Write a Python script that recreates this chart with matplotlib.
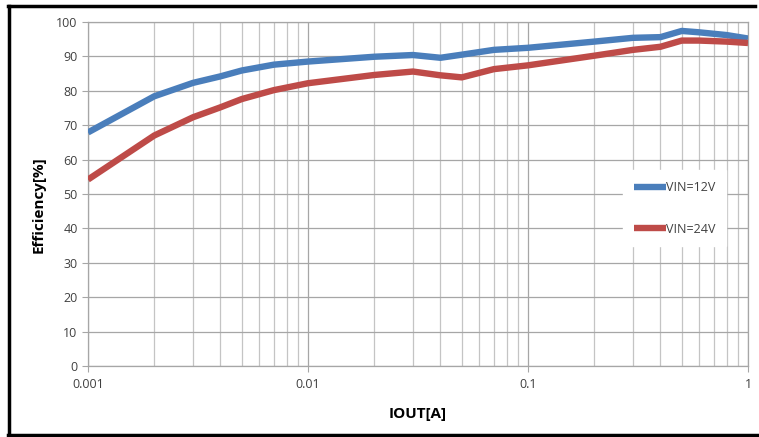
import matplotlib
matplotlib.use("Agg")
import matplotlib.pyplot as plt
from matplotlib.lines import Line2D
from matplotlib.ticker import FixedLocator, NullFormatter

plt.rcParams['font.family'] = ['Open Sans', 'DejaVu Sans']

# output current [A]
iout = [0.001, 0.002, 0.003, 0.004, 0.005, 0.007, 0.01, 0.02, 0.03, 0.04,
        0.05, 0.07, 0.1, 0.2, 0.3, 0.4, 0.5, 0.6, 0.8, 1.0]
# efficiency [%]
eff_12v = [67.9, 78.4, 82.3, 84.2, 85.9, 87.6, 88.5, 89.9, 90.4, 89.6,
           90.5, 91.9, 92.5, 94.3, 95.4, 95.6, 97.4, 97.0, 96.2, 95.2]
eff_24v = [54.2, 67.0, 72.3, 75.2, 77.6, 80.2, 82.2, 84.6, 85.6, 84.5,
           83.9, 86.3, 87.4, 90.2, 91.9, 92.8, 94.6, 94.6, 94.3, 93.9]

fig = plt.figure(figsize=(7.59, 4.37), dpi=100)
ax = fig.add_axes([88/759, 1-366/437, 660/759, 344/437])

ax.plot(iout, eff_12v, color='#4a7ebb', lw=4.6, solid_capstyle='butt', label='VIN=12V', zorder=3)
ax.plot(iout, eff_24v, color='#be4b48', lw=4.6, solid_capstyle='butt', label='VIN=24V', zorder=3)

ax.set_xscale('log')
ax.set_xlim(0.001, 1)
ax.set_ylim(0, 100)
ax.set_yticks(range(0, 101, 10))
ax.set_xticks([0.001, 0.01, 0.1, 1])
ax.set_xticklabels(['0.001', '0.01', '0.1', '1'])
minors = [m * d for d in (0.001, 0.01, 0.1) for m in range(2, 10)]
ax.xaxis.set_minor_locator(FixedLocator(minors))
ax.xaxis.set_minor_formatter(NullFormatter())

ax.grid(True, which='major', color='#a6a6a6', lw=0.9)
ax.grid(True, which='minor', axis='x', color='#c4c4c4', lw=0.9)
ax.set_axisbelow(True)
for s in ax.spines.values():
    s.set_color('#a6a6a6')
    s.set_linewidth(0.9)
ax.tick_params(axis='both', which='major', length=4, color='#a6a6a6',
               labelcolor='#404040', labelsize=9)
ax.tick_params(axis='x', which='minor', length=0)
ax.tick_params(axis='x', pad=5)

ax.set_xlabel('IOUT[A]', fontsize=11, fontweight='bold', labelpad=11)
ax.set_ylabel('Efficiency[%]', fontsize=11, fontweight='bold')
ax.yaxis.set_label_coords(-0.064, 0.47)

leg = ax.legend(loc='center left', bbox_to_anchor=(535/660, 0.458), frameon=True,
                fancybox=False, edgecolor='white', facecolor='white', framealpha=1,
                fontsize=9, handlelength=2.6, handletextpad=0.0, labelspacing=2.3,
                borderpad=0.85, borderaxespad=0)
for t in leg.get_texts():
    t.set_color('#404040')

# outer frame
fig.add_artist(Line2D([9/759, 9/759], [1-435/437, 1-5.5/437], transform=fig.transFigure, color='black', lw=2.5))
fig.add_artist(Line2D([8/759, 755/759], [1-5.5/437, 1-5.5/437], transform=fig.transFigure, color='black', lw=2.5))
fig.add_artist(Line2D([8/759, 1], [1-435/437, 1-435/437], transform=fig.transFigure, color='black', lw=2.5))

fig.savefig('out.png', dpi=100)
